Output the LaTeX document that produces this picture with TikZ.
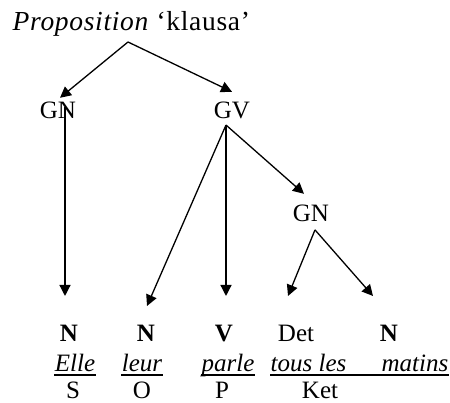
\documentclass[tikz,border=0pt]{standalone}
\usepackage{fontspec}
\setmainfont{Liberation Serif}
\usetikzlibrary{arrows.meta}
\tikzset{>={Triangle[length=11pt,width=11pt]}}

\begin{document}
\begin{tikzpicture}[x=1pt,y=-1pt,line width=1.3pt,
    every node/.style={inner sep=0pt,anchor=base,font=\fontsize{25}{30}\selectfont}]
  \useasboundingbox (0,0) rectangle (450,403);

  %% tree labels
  \node[anchor=base west,font=\fontsize{27.5}{30}\selectfont\addfontfeatures{LetterSpace=2.5}] (prop) at (12,31)
    {\itshape Proposition\/ \upshape `klausa'};
  \coordinate (root) at (128,42);
  \node (gn1) at (58,119) {GN};
  \node (gv) at (232,119) {GV};
  \node (gn2) at (311,222) {GN};

  %% categories
  \node (n1) at (69,342) {\bfseries N};
  \node (n2) at (146,342) {\bfseries N};
  \node (v) at (224,342) {\bfseries V};
  \node (det) at (296,342) {Det};
  \node (n3) at (389,342) {\bfseries N};

  %% words
  \node (elle) at (75,372) {\itshape Elle};
  \node (leur) at (142,372) {\itshape leur};
  \node (parle) at (228,372) {\itshape parle};
  \node[anchor=base west] (tous) at (270,372) {\itshape tous les};
  \node[anchor=base west] (matins) at (381,372) {\itshape matins};

  %% functions
  \node (s) at (73,399) {S};
  \node (o) at (142,399) {O};
  \node (p) at (222,399) {P};
  \node (ket) at (320,399) {Ket};

  %% root -> GN, GV
  \draw[->] (root) -- ([xshift=2pt,yshift=4pt]gn1.north);
  \draw[->] (root) -- ([yshift=10pt]gv.north);

  %% GN -> N
  \draw[->] ([xshift=7pt,yshift=-5pt]gn1.north) -- ([xshift=-4pt,yshift=29pt]n1.north);

  %% GV -> N, V, GN
  \draw[->] ([xshift=-6pt,yshift=-5pt]gv.south) -- ([xshift=1pt,yshift=19pt]n2.north);
  \draw[->] ([xshift=-6pt,yshift=-5pt]gv.south) -- ([xshift=2pt,yshift=29pt]v.north);
  \draw[->] ([xshift=-6pt,yshift=-5pt]gv.south) -- ([xshift=-7pt,yshift=11pt]gn2.north);

  %% GN -> Det, N
  \draw[->] ([xshift=4pt,yshift=-7pt]gn2.south) -- ([xshift=-8pt,yshift=29pt]det.north);
  \draw[->] ([xshift=4pt,yshift=-7pt]gn2.south) -- ([xshift=-16pt,yshift=29pt]n3.north);

  %% underlines
  \foreach \w in {elle,leur,parle}
    \draw[line width=1.2pt] ([yshift=-3pt]\w.base west) -- ([yshift=-3pt]\w.base east);
  \draw[line width=1.2pt] ([yshift=-3pt]tous.base west) -- ([yshift=-3pt]matins.base east);
\end{tikzpicture}
\end{document}
